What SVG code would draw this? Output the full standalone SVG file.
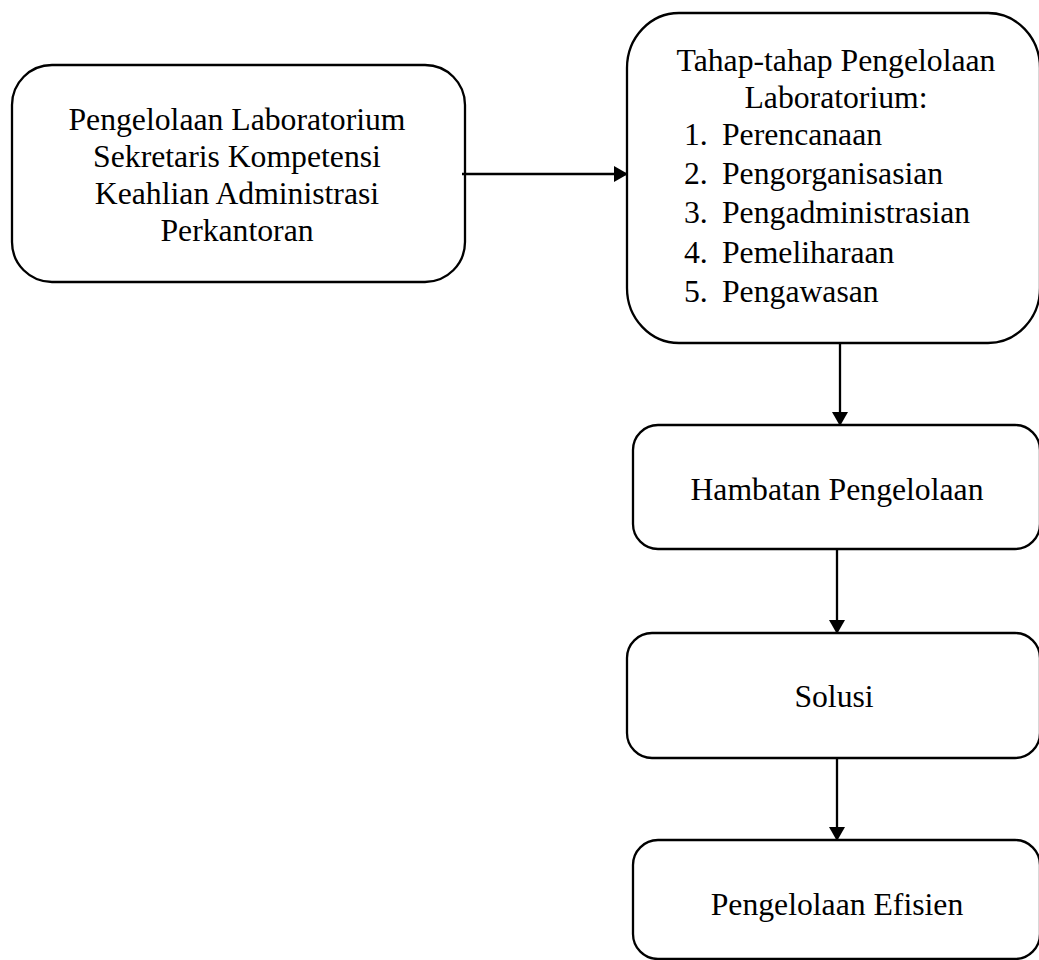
<svg xmlns="http://www.w3.org/2000/svg" width="1039" height="960" viewBox="0 0 1039 960">
<style>
.box{fill:#fff;stroke:#000;stroke-width:2.3}
.t{font-family:"Liberation Serif","Times New Roman",serif;font-size:31.7px;fill:#000}
.c{text-anchor:middle}
.con{stroke:#000;stroke-width:2.3;fill:none}
</style>
<defs>
<marker id="arr" markerWidth="14" markerHeight="16" refX="13" refY="8" orient="auto" markerUnits="userSpaceOnUse">
<path d="M0,0 L14,8 L0,16 Z" fill="#000"/>
</marker>
</defs>
<rect width="1039" height="960" fill="#fff"/>
<g id="node1">
<rect class="box" x="12" y="65" width="453" height="217" rx="40" ry="40"/>
<text class="t c" x="237" y="130">Pengelolaan Laboratorium</text>
<text class="t c" x="237" y="167">Sekretaris Kompetensi</text>
<text class="t c" x="237" y="204">Keahlian Administrasi</text>
<text class="t c" x="237" y="241">Perkantoran</text>
</g>
<g id="node2">
<rect class="box" x="627" y="13" width="413" height="330" rx="52" ry="55"/>
<text class="t c" x="836" y="71">Tahap-tahap Pengelolaan</text>
<text class="t c" x="836" y="108">Laboratorium:</text>
<text class="t" x="684" y="145">1.</text><text class="t" x="722" y="145">Perencanaan</text>
<text class="t" x="684" y="184">2.</text><text class="t" x="722" y="184">Pengorganisasian</text>
<text class="t" x="684" y="223">3.</text><text class="t" x="722" y="223">Pengadministrasian</text>
<text class="t" x="684" y="263">4.</text><text class="t" x="722" y="263">Pemeliharaan</text>
<text class="t" x="684" y="302">5.</text><text class="t" x="722" y="302">Pengawasan</text>
</g>
<g id="node3">
<rect class="box" x="633" y="425" width="407" height="124" rx="25" ry="25"/>
<text class="t c" x="837" y="500">Hambatan Pengelolaan</text>
</g>
<g id="node4">
<rect class="box" x="627" y="633" width="413" height="125" rx="25" ry="25"/>
<text class="t c" x="834" y="707">Solusi</text>
</g>
<g id="node5">
<rect class="box" x="633" y="840" width="407" height="119" rx="25" ry="25"/>
<text class="t c" x="837" y="915">Pengelolaan Efisien</text>
</g>
<g id="connectors">
<line class="con" x1="462" y1="174" x2="627" y2="174" marker-end="url(#arr)"/>
<line class="con" x1="840" y1="343" x2="840" y2="425" marker-end="url(#arr)"/>
<line class="con" x1="837" y1="549" x2="837" y2="633" marker-end="url(#arr)"/>
<line class="con" x1="837" y1="758" x2="837" y2="840" marker-end="url(#arr)"/>
</g>
</svg>
